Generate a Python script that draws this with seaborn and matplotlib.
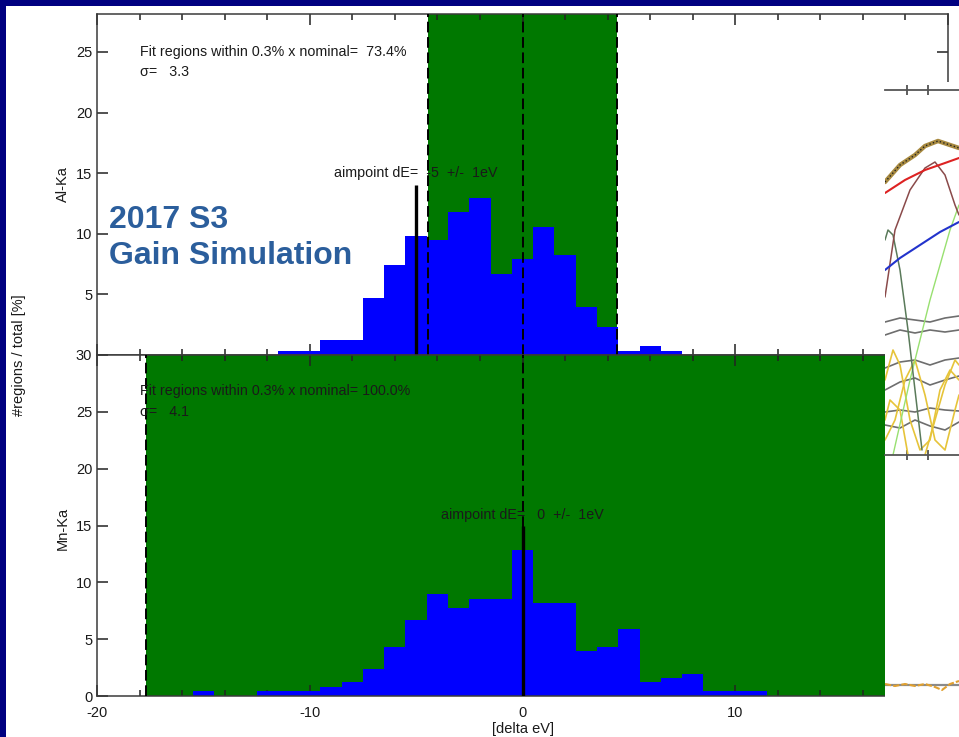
import matplotlib
matplotlib.use("Agg")
import matplotlib.pyplot as plt
from matplotlib.patches import Rectangle
from matplotlib.ticker import MultipleLocator, FixedLocator
import seaborn as sns

# ---------------- histogram data (percentage of fit regions per 1 eV bin) ----------------
al_bins = [-11, -10, -9, -8, -7, -6, -5, -4, -3, -2, -1, 0, 1, 2, 3, 4, 5, 6, 7]
al_pct = [0.33, 0.33, 1.2, 1.2, 4.7, 7.4, 9.8, 9.5, 11.8, 12.95, 6.7, 7.9,
          10.6, 8.25, 4.0, 2.3, 0.33, 0.77, 0.33]

mn_bins = [-15, -14, -13, -12, -11, -10, -9, -8, -7, -6, -5, -4, -3, -2, -1,
           0, 1, 2, 3, 4, 5, 6, 7, 8, 9, 10, 11]
mn_pct = [0.41, 0.0, 0.0, 0.4, 0.4, 0.4, 0.79, 1.23, 2.35, 4.34, 6.66, 9.0, 7.77,
          8.57, 8.57, 12.88, 8.19, 8.19, 3.93, 4.34, 5.87, 1.23, 1.56, 1.94,
          0.44, 0.44, 0.44]

# fit window (0.3% of the nominal line energy, in eV), aimpoint and summary numbers
al_window, mn_window = 4.46, 17.7
al_aim, mn_aim = -5, 0
al_aim_top, mn_aim_top = 14.0, 15.0
al_frac, mn_frac = 73.4, 100.0
al_sigma, mn_sigma = 3.3, 4.1

line_names = ["Al-Ka", "Mn-Ka"]
x_ticks = [-20, -10, 0, 10, 20]
x_tick_labels = ["-20", "-10", "0", "10", "20"]
al_y_ticks = [5, 10, 15, 20, 25]
mn_y_ticks = [0, 5, 10, 15, 20, 25, 30]

# ---------------- spectrum fit snippet (channel vs. counts, arbitrary units) ----------------
spec_x = [0, 15, 30, 40, 53, 65, 74]
spec_data = [273, 290, 300, 309, 314, 310, 307]
red_x = [0, 20, 40, 60, 74]
red_y = [262, 275, 285, 292, 297]
brown_x = [0, 10, 25, 40, 50, 60, 70, 74]
brown_y = [158, 225, 265, 287, 293, 280, 250, 240]
blue_x = [0, 15, 35, 55, 74]
blue_y = [185, 197, 210, 223, 233]
dgreen_x = [0, 3, 8, 15, 23, 30, 37]
dgreen_y = [215, 225, 220, 185, 125, 65, 5]
lgreen_x = [8, 25, 45, 65, 74]
lgreen_y = [0, 75, 155, 225, 250]
gray_x = [0, 15, 30, 45, 60, 74]
gray_ys = [
    [133, 137, 135, 133, 137, 139],
    [120, 125, 122, 125, 123, 125],
    [87, 93, 95, 90, 95, 97],
    [65, 73, 77, 70, 75, 79],
    [43, 45, 43, 47, 45, 44],
    [30, 27, 35, 29, 25, 33],
]
yellow_lines = [
    ([0, 8, 15, 25, 35, 45, 55, 65, 74], [75, 105, 90, 35, 5, 15, 65, 85, 75]),
    ([0, 10, 20, 30, 40, 50, 60, 70, 74], [15, 35, 75, 95, 60, 15, 5, 45, 60]),
    ([0, 5, 15, 23], [35, 55, 45, 0]),
    ([40, 50, 60, 70, 74], [0, 35, 70, 95, 90]),
]
resid_x = [0, 10, 20, 30, 40, 50, 57, 65, 74]
resid_y = [1, -1, 1, -1, 1, -2, -5, 1, 4]

# ---------------- style ----------------
sns.set_style("ticks")
plt.rcParams["font.family"] = ["Liberation Sans", "DejaVu Sans"]
plt.rcParams["axes.linewidth"] = 1.1
plt.rcParams["axes.edgecolor"] = "#3a3a3a"

NAVY = "#000080"
GREEN = "#007800"
BLUE = "#0000ff"
TXT = "#1a1a1a"
TITLE = "#2b5e9c"
ANN = 10.3   # annotation font size
LAB = 10.5   # tick / axis label font size

W, H = 959, 737
fig = plt.figure(figsize=(W / 100, H / 100), dpi=100)
fig.patch.set_facecolor(NAVY)
fig.patches.append(Rectangle((6 / W, 0), 1, 1 - 6 / H, transform=fig.transFigure,
                             facecolor="white", edgecolor="none", zorder=-10))


def fig_rect(x0, y0, x1, y1):
    """Pixel box (left, top, right, bottom) -> figure fraction rect."""
    return [x0 / W, 1 - y1 / H, (x1 - x0) / W, (y1 - y0) / H]


ax_al = fig.add_axes(fig_rect(97, 14, 948, 355))
ax_mn = fig.add_axes(fig_rect(97, 355, 948, 696))


def draw_panel(ax, bins, pct, window, aim, aim_top, frac, sigma, ymax,
               frac_y, sigma_y, aim_text_y):
    ax.set_facecolor("white")
    ax.axvspan(-window, window, color=GREEN, lw=0, zorder=0)
    sns.histplot(x=bins, weights=pct, discrete=True, color=BLUE, alpha=1,
                 linewidth=0, edgecolor="none", ax=ax, zorder=1)
    for xv in (-window, 0, window):
        ax.axvline(xv, color="black", lw=1.4, ls=(0, (5.5, 2.4)), zorder=3)
    ax.vlines(aim, 0, aim_top, color="black", lw=2.4, zorder=4)
    ax.text(aim, aim_text_y, f"aimpoint dE={aim:4d}  +/-  1eV", ha="center",
            va="center", fontsize=ANN, color=TXT, zorder=5)
    ax.text(-18, frac_y, f"Fit regions within 0.3% x nominal={frac:6.1f}%",
            ha="left", va="center", fontsize=ANN, color=TXT, zorder=5)
    ax.text(-18, sigma_y, f"\u03c3={sigma:6.1f}", ha="left", va="center",
            fontsize=ANN, color=TXT, zorder=5)
    ax.set_xlim(-20, 20)
    ax.set_ylim(0, ymax)
    ax.xaxis.set_major_locator(FixedLocator(x_ticks))
    ax.xaxis.set_minor_locator(MultipleLocator(2))
    ax.tick_params(which="major", direction="in", top=True, right=True,
                   length=8, width=1.1, color="#222222", labelsize=LAB,
                   labelcolor=TXT)
    ax.tick_params(which="minor", direction="in", top=True, bottom=True,
                   length=4, width=1.1, color="#222222")
    ax.tick_params(axis="x", which="major", pad=7)
    ax.set_ylabel("")
    ax.set_xlabel("")
    for s in ax.spines.values():
        s.set_visible(True)


draw_panel(ax_al, al_bins, al_pct, al_window, al_aim, al_aim_top, al_frac,
           al_sigma, 28.13, 25.0, 23.35, 15.0)
draw_panel(ax_mn, mn_bins, mn_pct, mn_window, mn_aim, mn_aim_top, mn_frac,
           mn_sigma, 30, 26.8, 25.0, 15.9)

ax_al.set_yticks(al_y_ticks)
ax_al.tick_params(labelbottom=False)
ax_mn.set_yticks(mn_y_ticks)
ax_mn.set_xticks(x_ticks)
ax_mn.set_xticklabels(x_tick_labels)

ax_al.set_ylabel(line_names[0], fontsize=LAB, color=TXT)
ax_al.yaxis.set_label_coords(-0.032, 0.5)
ax_mn.set_ylabel(line_names[1], fontsize=LAB, color=TXT)
ax_mn.yaxis.set_label_coords(-0.032, 0.49)
ax_mn.set_xlabel("[delta eV]", fontsize=LAB, color=TXT)
ax_mn.xaxis.set_label_coords(0.5, -0.077)
fig.text(19 / W, 1 - 355 / H, "#regions / total [%]", rotation=90,
         ha="center", va="center", fontsize=LAB, color=TXT)

# slide title
fig.text(109 / W, 1 - 228 / H, "2017 S3", ha="left", va="baseline",
         fontsize=23, fontweight="bold", color=TITLE)
fig.text(109 / W, 1 - 264 / H, "Gain Simulation", ha="left", va="baseline",
         fontsize=23, fontweight="bold", color=TITLE)

# ---------------- spectrum fit snippet on the right ----------------
ax_bg = fig.add_axes(fig_rect(885, 82, 959, 737))
ax_bg.set_axis_off()
ax_bg.add_patch(Rectangle((0, 0), 1, 1, transform=ax_bg.transAxes,
                          facecolor="white", edgecolor="none"))

ax_sp = fig.add_axes(fig_rect(885, 90, 959, 455))
ax_sp.set_xlim(0, 74)
ax_sp.set_ylim(0, 365)
ax_sp.patch.set_alpha(0)
for side in ("left", "right"):
    ax_sp.spines[side].set_visible(False)
for side in ("top", "bottom"):
    ax_sp.spines[side].set_color("#555555")
    ax_sp.spines[side].set_linewidth(1.3)
for gy in gray_ys:
    sns.lineplot(x=gray_x, y=gy, color="#6e6e6e", lw=1.2, ax=ax_sp)
for yx, yy in yellow_lines:
    sns.lineplot(x=yx, y=yy, color="#e6c43a", lw=1.2, ax=ax_sp)
sns.lineplot(x=lgreen_x, y=lgreen_y, color="#98e070", lw=1.0, ax=ax_sp)
sns.lineplot(x=dgreen_x, y=dgreen_y, color="#5a7a5a", lw=1.1, ax=ax_sp)
sns.lineplot(x=brown_x, y=brown_y, color="#8a4a4a", lw=1.1, ax=ax_sp)
sns.lineplot(x=blue_x, y=blue_y, color="#2233cc", lw=1.5, ax=ax_sp)
sns.lineplot(x=red_x, y=red_y, color="#dd2222", lw=1.5, ax=ax_sp)
sns.lineplot(x=spec_x, y=spec_data, color="#a88a40", lw=3.2, ax=ax_sp)
sns.lineplot(x=spec_x, y=spec_data, color="#222222", lw=1.0, ls=":", ax=ax_sp)
ax_sp.set_xticks([22, 43])
ax_sp.set_yticks([])
ax_sp.tick_params(axis="x", direction="inout", top=True, bottom=True,
                  labelbottom=False, length=7, width=1.1, color="#333333")
ax_sp.set_xlabel("")
ax_sp.set_ylabel("")

ax_res = fig.add_axes(fig_rect(885, 455, 959, 700))
ax_res.set_xlim(0, 74)
ax_res.set_ylim(-15, 230)
ax_res.set_axis_off()
ax_res.axhline(0, color="#8a8a8a", lw=1.6)
sns.lineplot(x=resid_x, y=resid_y, color="#e0a030", lw=1.5, ls=(0, (3, 1)),
             ax=ax_res)

fig.savefig("out.png", dpi=100, facecolor=fig.get_facecolor())
